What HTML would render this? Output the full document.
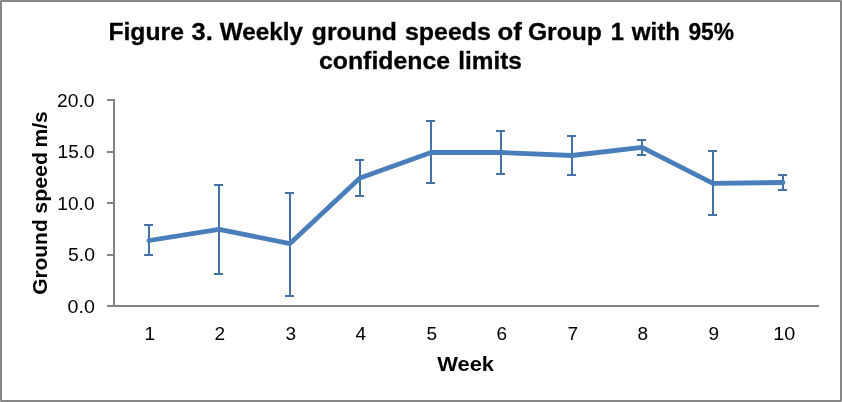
<!DOCTYPE html>
<html><head><meta charset="utf-8"><title>Figure 3</title>
<style>
html,body{margin:0;padding:0;background:#fff;}
svg{display:block;}
text{font-family:"Liberation Sans",sans-serif;fill:#000;}
.t{font-weight:bold;font-size:24.82px;stroke:#000;stroke-width:0.3px;}
.a{font-weight:bold;font-size:21.0px;}
.y{font-weight:bold;font-size:21.0px;}
.n{font-size:18.3px;}
</style></head><body>
<svg width="842" height="402" viewBox="0 0 842 402">
<rect x="0" y="0" width="842" height="402" fill="#fff"/>
<rect x="1" y="1" width="840" height="400" fill="none" stroke="#868686" stroke-width="2"/>
<path d="M0 0h1v1h-1zM841 0h1v1h-1zM0 401h1v1h-1zM841 401h1v1h-1z" fill="#b4b4b4"/>
<text class="t" y="39.5"><tspan x="108.38" textLength="75.55" lengthAdjust="spacingAndGlyphs">Figure</tspan> <tspan x="191.46" textLength="21.29" lengthAdjust="spacingAndGlyphs">3.</tspan> <tspan x="219.75" textLength="83.35" lengthAdjust="spacingAndGlyphs">Weekly</tspan> <tspan x="311.8" textLength="85.07" lengthAdjust="spacingAndGlyphs">ground</tspan> <tspan x="405.02" textLength="85.76" lengthAdjust="spacingAndGlyphs">speeds</tspan> <tspan x="497.46" textLength="24.26" lengthAdjust="spacingAndGlyphs">of</tspan> <tspan x="527.91" textLength="74.01" lengthAdjust="spacingAndGlyphs">Group</tspan> <tspan x="610.85" textLength="13.2" lengthAdjust="spacingAndGlyphs">1</tspan> <tspan x="631.7" textLength="48.36" lengthAdjust="spacingAndGlyphs">with</tspan> <tspan x="688.4" textLength="45.62" lengthAdjust="spacingAndGlyphs">95%</tspan></text>
<text class="t" y="69.2"><tspan x="319" textLength="130.99" lengthAdjust="spacingAndGlyphs">confidence</tspan> <tspan x="458.23" textLength="63.6" lengthAdjust="spacingAndGlyphs">limits</tspan></text>
<text class="a" y="370.7"><tspan x="437.2" textLength="56.81" lengthAdjust="spacingAndGlyphs">Week</tspan></text>
<text class="n" y="107"><tspan x="57.08" textLength="37.5" lengthAdjust="spacingAndGlyphs">20.0</tspan></text>
<text class="n" y="158"><tspan x="57.57" textLength="36.99" lengthAdjust="spacingAndGlyphs">15.0</tspan></text>
<text class="n" y="210"><tspan x="57.36" textLength="37.21" lengthAdjust="spacingAndGlyphs">10.0</tspan></text>
<text class="n" y="261.2"><tspan x="68.01" textLength="26.92" lengthAdjust="spacingAndGlyphs">5.0</tspan></text>
<text class="n" y="313"><tspan x="67.59" textLength="27.34" lengthAdjust="spacingAndGlyphs">0.0</tspan></text>
<text class="y" transform="translate(46.8 0) rotate(-90)"><tspan x="-294.77" textLength="75.41" lengthAdjust="spacingAndGlyphs">Ground</tspan> <tspan x="-213.66" textLength="61.63" lengthAdjust="spacingAndGlyphs">speed</tspan> <tspan x="-147.58" textLength="36.32" lengthAdjust="spacingAndGlyphs">m/s</tspan></text>
<path d="M114 99V306M107 306H819M107 100H114M107 152H114M107 203H114M107 255H114" fill="none" stroke="#848484" stroke-width="2" shape-rendering="crispEdges"/>
<path d="M149 225V255M144 225h9M144 255h9M219 185V274M214 185h9M214 274h9M290 193V296M285 193h9M285 296h9M360 160V196M355 160h9M355 196h9M431 121V183M426 121h9M426 183h9M501 131V174M496 131h9M496 174h9M572 136V175M567 136h9M567 175h9M642 140V155M637 140h9M637 155h9M713 151V215M708 151h9M708 215h9M783 175V190M778 175h9M778 190h9" fill="none" stroke="#4471a6" stroke-width="2" shape-rendering="crispEdges"/>
<polyline points="149,240.5 219,229.4 290,243.6 360,177.9 431,152.5 501,152.5 572,155.5 642,147.4 713,183.4 783,182.5" fill="none" stroke="#4a7ebb" stroke-width="4.8" stroke-linecap="round" stroke-linejoin="round"/>
<text class="n" transform="translate(149.7 340.4) scale(1.04 1)" text-anchor="middle">1</text>
<text class="n" transform="translate(219.7 340.4) scale(1.04 1)" text-anchor="middle">2</text>
<text class="n" transform="translate(290.7 340.4) scale(1.04 1)" text-anchor="middle">3</text>
<text class="n" transform="translate(360.7 340.4) scale(1.04 1)" text-anchor="middle">4</text>
<text class="n" transform="translate(431.7 340.4) scale(1.04 1)" text-anchor="middle">5</text>
<text class="n" transform="translate(501.7 340.4) scale(1.04 1)" text-anchor="middle">6</text>
<text class="n" transform="translate(572.7 340.4) scale(1.04 1)" text-anchor="middle">7</text>
<text class="n" transform="translate(642.7 340.4) scale(1.04 1)" text-anchor="middle">8</text>
<text class="n" transform="translate(713.7 340.4) scale(1.04 1)" text-anchor="middle">9</text>
<text class="n" y="340.4"><tspan x="773.21" textLength="22.08" lengthAdjust="spacingAndGlyphs">10</tspan></text>
</svg>
</body></html>
